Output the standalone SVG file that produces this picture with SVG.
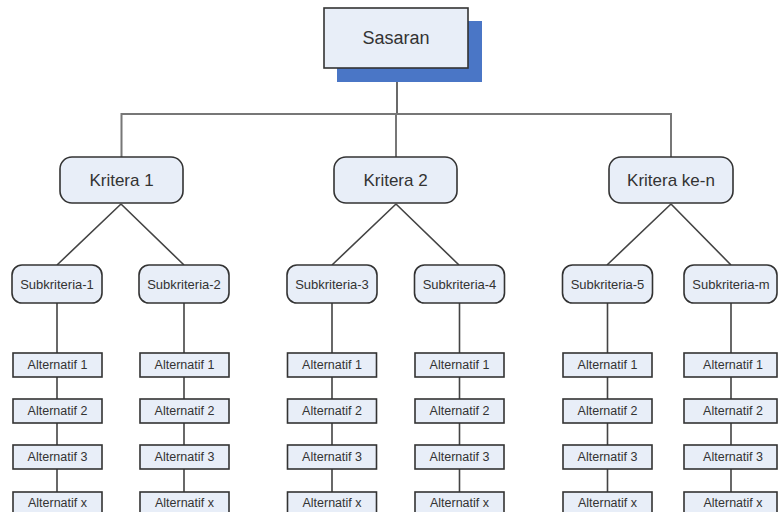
<svg xmlns="http://www.w3.org/2000/svg" width="779" height="512" viewBox="0 0 779 512">
<style>
text{font-family:"Liberation Sans",Arial,sans-serif;fill:#333;text-anchor:middle;dominant-baseline:central}
.box{fill:#e8eef8;stroke:#333;stroke-width:1.6}
.k text{font-size:17px}
.s text{font-size:13px}
.a text{font-size:12.5px}
.ln{stroke:#444;stroke-width:1.6;fill:none}
.gl{stroke:#777;stroke-width:2;fill:none}
</style>
<rect width="779" height="512" fill="#fff"/>
<g id="connectors">
<line class="ln" x1="397" y1="68" x2="397" y2="114" stroke="#111"/>
<polyline class="gl" points="121.5,158 121.5,114 671,114 671,158"/>
<line class="gl" x1="396" y1="114" x2="396" y2="158"/>
<path class="ln" d="M121,204 L57,265 M121,204 L184,265 M396,204 L332,265 M396,204 L459,265 M671,204 L607,265 M671,204 L731,265"/>
<path class="ln" d="M57,303 V492 M184,303 V492 M332,303 V492 M459.5,303 V492 M607.5,303 V492 M731,303 V492"/>
</g>
<g id="sasaran">
<rect x="337" y="21" width="145" height="61" fill="#4a76c6"/>
<rect class="box" x="324" y="8" width="144" height="60"/>
<text x="396" y="38" font-size="18">Sasaran</text>
</g>
<g id="kritera1" class="k"><rect class="box" x="60" y="157" width="123" height="46" rx="12"/><text x="121.5" y="180">Kritera 1</text></g>
<g id="kritera2" class="k"><rect class="box" x="334" y="157" width="123" height="46" rx="12"/><text x="395.5" y="180">Kritera 2</text></g>
<g id="kriteran" class="k"><rect class="box" x="609" y="157" width="124" height="46" rx="12"/><text x="671" y="180">Kritera ke-n</text></g>
<g id="sub1" class="s"><rect class="box" x="12" y="265" width="90" height="38" rx="10"/><text x="57" y="284">Subkriteria-1</text></g>
<g id="sub2" class="s"><rect class="box" x="139" y="265" width="90" height="38" rx="10"/><text x="184" y="284">Subkriteria-2</text></g>
<g id="sub3" class="s"><rect class="box" x="287" y="265" width="90" height="38" rx="10"/><text x="332" y="284">Subkriteria-3</text></g>
<g id="sub4" class="s"><rect class="box" x="414.5" y="265" width="90" height="38" rx="10"/><text x="459.5" y="284">Subkriteria-4</text></g>
<g id="sub5" class="s"><rect class="box" x="562.5" y="265" width="90" height="38" rx="10"/><text x="607.5" y="284">Subkriteria-5</text></g>
<g id="subm" class="s"><rect class="box" x="684" y="265" width="93" height="38" rx="10"/><text x="731" y="284">Subkriteria-m</text></g>
<g id="alt-c1" class="a">
<rect class="box" x="13" y="353" width="89" height="24"/><text x="57.5" y="365">Alternatif 1</text>
<rect class="box" x="13" y="399" width="89" height="24"/><text x="57.5" y="411">Alternatif 2</text>
<rect class="box" x="13" y="445" width="89" height="24"/><text x="57.5" y="457">Alternatif 3</text>
<rect class="box" x="13" y="492" width="89" height="24"/><text x="57.5" y="503">Alternatif x</text>
</g>
<g id="alt-c2" class="a">
<rect class="box" x="140" y="353" width="89" height="24"/><text x="184.5" y="365">Alternatif 1</text>
<rect class="box" x="140" y="399" width="89" height="24"/><text x="184.5" y="411">Alternatif 2</text>
<rect class="box" x="140" y="445" width="89" height="24"/><text x="184.5" y="457">Alternatif 3</text>
<rect class="box" x="140" y="492" width="89" height="24"/><text x="184.5" y="503">Alternatif x</text>
</g>
<g id="alt-c3" class="a">
<rect class="box" x="287.5" y="353" width="89" height="24"/><text x="332" y="365">Alternatif 1</text>
<rect class="box" x="287.5" y="399" width="89" height="24"/><text x="332" y="411">Alternatif 2</text>
<rect class="box" x="287.5" y="445" width="89" height="24"/><text x="332" y="457">Alternatif 3</text>
<rect class="box" x="287.5" y="492" width="89" height="24"/><text x="332" y="503">Alternatif x</text>
</g>
<g id="alt-c4" class="a">
<rect class="box" x="415" y="353" width="89" height="24"/><text x="459.5" y="365">Alternatif 1</text>
<rect class="box" x="415" y="399" width="89" height="24"/><text x="459.5" y="411">Alternatif 2</text>
<rect class="box" x="415" y="445" width="89" height="24"/><text x="459.5" y="457">Alternatif 3</text>
<rect class="box" x="415" y="492" width="89" height="24"/><text x="459.5" y="503">Alternatif x</text>
</g>
<g id="alt-c5" class="a">
<rect class="box" x="563" y="353" width="89" height="24"/><text x="607.5" y="365">Alternatif 1</text>
<rect class="box" x="563" y="399" width="89" height="24"/><text x="607.5" y="411">Alternatif 2</text>
<rect class="box" x="563" y="445" width="89" height="24"/><text x="607.5" y="457">Alternatif 3</text>
<rect class="box" x="563" y="492" width="89" height="24"/><text x="607.5" y="503">Alternatif x</text>
</g>
<g id="alt-cm" class="a">
<rect class="box" x="684" y="353" width="93" height="24"/><text x="733" y="365">Alternatif 1</text>
<rect class="box" x="684" y="399" width="93" height="24"/><text x="733" y="411">Alternatif 2</text>
<rect class="box" x="684" y="445" width="93" height="24"/><text x="733" y="457">Alternatif 3</text>
<rect class="box" x="684" y="492" width="93" height="24"/><text x="733" y="503">Alternatif x</text>
</g>
</svg>
